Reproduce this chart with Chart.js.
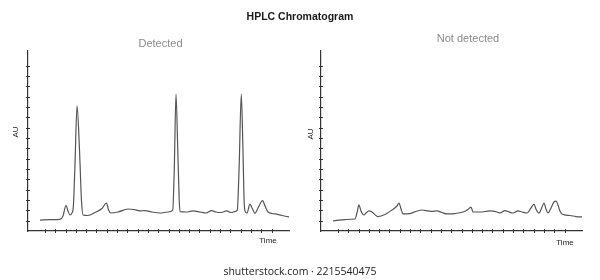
<!DOCTYPE html>
<html>
<head>
<meta charset="utf-8">
<script src="https://cdn.jsdelivr.net/npm/chart.js@4.4.0/dist/chart.umd.min.js"></script>
<style>
  html, body { margin: 0; padding: 0; background: #fff; overflow: hidden; }
  #page { position: relative; width: 600px; height: 280px; font-family: "Liberation Sans", Arial, sans-serif; }
  .box { position: absolute; top: 0; width: 300px; height: 280px; }
  .lbl { position: absolute; white-space: nowrap; line-height: 1; transform: translate(-50%, -50%); }
  .sub { font-size: 11px; color: #8a8a8a; }
  .au { font-size: 8px; color: #222; transform: translate(-50%, -50%) rotate(-90deg); }
  .time { font-size: 8px; color: #222; }
</style>
</head>
<body>
<div id="page">
  <div class="box" style="left:0"><canvas id="detected" width="300" height="280"></canvas></div>
  <div class="box" style="left:293px"><canvas id="notDetected" width="300" height="280"></canvas></div>

  <div class="lbl" style="left:300px;top:16px;font-size:10.5px;font-weight:bold;color:#1a1a1a">HPLC Chromatogram</div>
  <div class="lbl sub" style="left:160.5px;top:42.5px">Detected</div>
  <div class="lbl sub" style="left:468px;top:37.5px">Not detected</div>
  <div class="lbl au" style="left:16px;top:132px">AU</div>
  <div class="lbl au" style="left:311px;top:134px">AU</div>
  <div class="lbl time" style="left:268px;top:241px">Time</div>
  <div class="lbl time" style="left:565px;top:243px">Time</div>
  <div class="lbl" style="left:300px;top:271px;font-family:'Open Sans',sans-serif;font-size:10.5px;color:#222">shutterstock.com · 2215540475</div>
</div>

<script>
// sample with peaks
const leftTime = [0.51, 1.49, 2.46, 2.75, 3.04, 3.23, 3.43, 3.62, 3.75, 3.91, 4.11, 4.35, 4.54, 4.69, 5.17, 5.85, 6.53, 6.97, 7.17, 7.41,
  8.09, 9.06, 9.64, 10.22, 10.71, 11.39, 12.16, 12.94, 13.40, 13.55, 13.72, 13.89, 14.03, 14.11, 14.69, 15.37, 16.05, 16.63, 17.18, 17.60,
  18.09, 18.64, 19.06, 19.50, 19.67, 19.84, 20.06, 20.22, 20.35, 20.47, 20.61, 20.90, 21.10, 21.39, 21.68, 22.13, 22.36, 22.65, 23.33, 24.01, 24.69];
const leftAU = [1.06, 1.11, 1.13, 1.45, 2.49, 1.94, 1.55, 1.74, 2.32, 6.39, 12.10, 7.84, 3.00, 1.55, 1.50, 1.79, 2.18, 2.71, 2.03, 1.74,
  1.84, 2.13, 2.08, 1.94, 1.98, 1.84, 1.74, 1.84, 2.03, 5.91, 13.26, 7.84, 3.00, 1.87, 1.84, 1.94, 1.84, 1.74, 1.97, 1.84,
  1.79, 1.94, 1.79, 1.89, 2.03, 5.91, 13.26, 7.84, 2.52, 1.84, 1.74, 2.61, 2.23, 1.71, 2.23, 2.93, 2.42, 1.84, 1.65, 1.50, 1.36];

// sample without peaks
const rightTime = [0.51, 1.68, 2.65, 2.84, 3.04, 3.23, 3.52, 3.72, 4.01, 4.30, 4.88, 5.56, 6.24, 6.73, 6.92, 7.12, 7.31, 7.99, 8.57, 9.16,
  9.74, 10.13, 10.61, 11.10, 11.58, 12.36, 13.14, 13.62, 13.91, 14.11, 14.79, 15.76, 16.44, 16.73, 17.21, 17.50, 17.99, 18.47, 18.86, 19.35,
  19.74, 20.03, 20.22, 20.51, 20.81, 21.00, 21.19, 21.39, 21.68, 21.97, 22.17, 22.36, 22.55, 22.75, 23.53, 24.11, 24.69];
const rightAU = [0.97, 1.11, 1.16, 1.74, 2.52, 1.94, 1.55, 1.74, 1.94, 1.84, 1.40, 1.60, 2.03, 2.42, 2.71, 2.13, 1.65, 1.69, 1.89, 2.03,
  1.94, 1.89, 1.94, 1.79, 1.65, 1.69, 1.84, 2.08, 2.32, 1.84, 1.84, 1.94, 1.84, 1.74, 1.98, 1.89, 1.74, 1.94, 1.84, 1.74,
  2.23, 2.61, 2.13, 1.74, 2.32, 2.71, 2.13, 1.74, 2.23, 2.81, 2.90, 2.52, 1.94, 1.65, 1.50, 1.40, 1.36];

const timeTicks = [1, 2, 3, 4, 5, 6, 7, 8, 9, 10, 11, 12, 13, 14, 15, 16, 17, 18, 19, 20, 21, 22, 23];
const auTicks = [1, 2, 3, 4, 5, 6, 7, 8, 9, 10, 11, 12, 13, 14, 15, 16];

// small tick marks crossing the axis line
const crossTicks = {
  id: 'crossTicks',
  afterDraw(chart) {
    const ctx = chart.ctx;
    const area = chart.chartArea;
    ctx.save();
    ctx.strokeStyle = '#333';
    ctx.lineWidth = 1;
    ctx.beginPath();
    chart.scales.x.ticks.forEach(t => {
      const px = Math.round(chart.scales.x.getPixelForValue(t.value)) + 0.5;
      ctx.moveTo(px, area.bottom - 2);
      ctx.lineTo(px, area.bottom + 2);
    });
    chart.scales.y.ticks.forEach(t => {
      const py = Math.round(chart.scales.y.getPixelForValue(t.value)) + 0.5;
      ctx.moveTo(area.left - 2, py);
      ctx.lineTo(area.left + 2, py);
    });
    ctx.stroke();
    ctx.restore();
  }
};

function makeChart(id, times, values) {
  new Chart(document.getElementById(id), {
    type: 'line',
    data: {
      datasets: [{
        data: times.map((t, i) => ({ x: t, y: values[i] })),
        borderColor: '#555',
        borderWidth: 1.2,
        pointRadius: 0,
        fill: false,
        cubicInterpolationMode: 'monotone'
      }]
    },
    options: {
      responsive: false,
      animation: false,
      events: [],
      layout: { padding: { left: 28, right: 11, top: 51, bottom: 49 } },
      plugins: { legend: { display: false }, tooltip: { enabled: false } },
      scales: {
        x: {
          type: 'linear',
          min: -0.65,
          max: 24.69,
          afterBuildTicks: s => { s.ticks = timeTicks.map(v => ({ value: v })); },
          ticks: { display: false },
          grid: { display: false, drawTicks: false },
          border: { color: '#333', width: 1.2 }
        },
        y: {
          min: 0,
          max: 17.42,
          afterBuildTicks: s => { s.ticks = auTicks.map(v => ({ value: v })); },
          ticks: { display: false },
          grid: { display: false, drawTicks: false },
          border: { color: '#333', width: 1.2 }
        }
      }
    },
    plugins: [crossTicks]
  });
}

makeChart('detected', leftTime, leftAU);
makeChart('notDetected', rightTime, rightAU);
</script>
</body>
</html>
